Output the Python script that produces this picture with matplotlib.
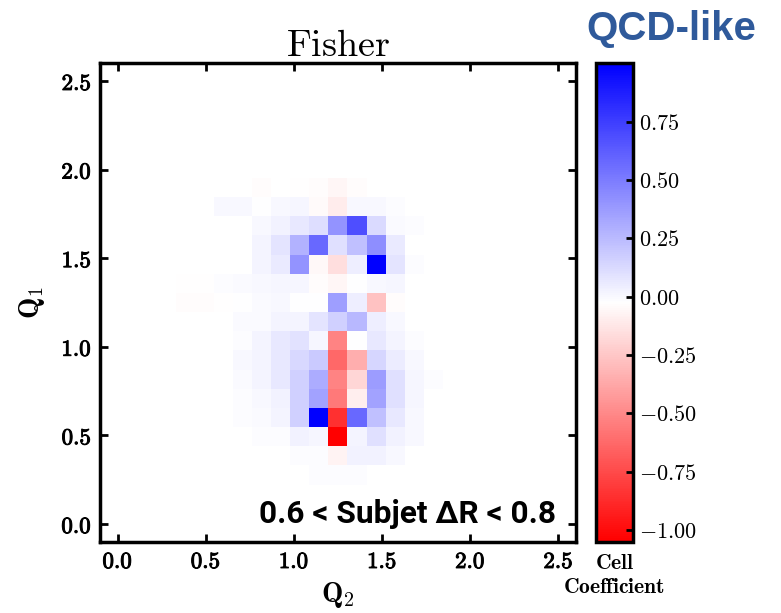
import numpy as np
import matplotlib
matplotlib.use("Agg")
import matplotlib.pyplot as plt
import matplotlib.patheffects as pe
from matplotlib.ticker import FuncFormatter, FormatStrFormatter

plt.rcParams['mathtext.fontset'] = 'cm'

# 25 x 25 cell grid over Q2 (x) and Q1 (y)
q_lo, q_hi, n_bins = -0.1, 2.6, 25

# populated block of the grid: rows 3..18 (Q1 bins), cols 4..17 (Q2 bins)
row_start = 3
col_start = 4
nan = np.nan
# listed from bottom row (3) to top row (18)
cell_coeff = [
    [nan,   nan,   nan,   nan,   nan,   nan,   nan, -0.015, -0.01, -0.015,  nan,   nan,   nan,   nan],   # 3
    [nan,   nan,   nan,   nan,   nan,   nan,  -0.01, -0.01, -0.07,  0.03,  0.03,  0.0,   nan,   nan],   # 4
    [nan,   nan,   nan,   nan, -0.015, -0.01,  0.03,  0.01, -1.05,  0.02,  0.10,  0.03,  0.0,   nan],   # 5
    [nan,   nan,   nan,  -0.01, -0.005, 0.02,  0.16,  1.00, -0.85,  0.58,  0.23,  0.07,  0.0,   nan],   # 6
    [nan,   nan,   nan,  -0.01,  0.0,   0.03,  0.16,  0.35, -0.56, -0.09,  0.35,  0.10,  0.01,  nan],   # 7
    [nan,   nan,   nan,  -0.005, 0.02,  0.07,  0.16,  0.31, -0.52, -0.19,  0.37,  0.10,  0.01, -0.01],  # 8
    [nan,   nan,   nan,   0.0,   0.02,  0.07,  0.13,  0.19, -0.63, -0.35,  0.14,  0.05,  0.0,   nan],   # 9
    [nan,   nan,   nan,  -0.01,  0.02,  0.07,  0.09,  0.01, -0.52, -0.02,  0.07,  0.02, -0.01,  nan],   # 10
    [nan,   nan,   nan,  -0.005,-0.005, 0.02,  0.02,  0.08,  0.16,  0.26,  0.04,  0.0,   nan,   nan],   # 11
    [-0.035, -0.035, -0.03, -0.025, -0.005, 0.0, -0.025, -0.025, 0.36, 0.04, -0.27, -0.035, nan,  nan],  # 12
    [-0.03, -0.03, -0.015, -0.005, 0.0,   0.01,  0.015, -0.035, -0.06, -0.025, 0.0,  0.01,  nan,   nan],  # 13
    [nan,   nan,   nan,   nan,   0.02,  0.06,  0.40, -0.05, -0.16,  0.04,  1.00,  0.08, -0.01,  nan],   # 14
    [nan,   nan,   nan,   nan,   0.02,  0.08,  0.28,  0.58,  0.10,  0.23,  0.43,  0.06,  nan,   nan],   # 15
    [nan,   nan,   nan,   nan,   0.0,   0.03,  0.07,  0.11,  0.40,  0.68,  0.12, -0.005, -0.01, nan],   # 16
    [nan,   nan,   0.0,   0.0,  -0.025, 0.0,   0.015, -0.045, -0.10, 0.0,   0.0,  -0.01,  nan,   nan],   # 17
    [nan,   nan,   nan,   nan,  -0.035, nan,  -0.03, -0.035, -0.06, -0.035, nan,   nan,   nan,   nan],   # 18
]

cbar_ticks = [-1.0, -0.75, -0.5, -0.25, 0.0, 0.25, 0.5, 0.75]
axis_ticks = [0.0, 0.5, 1.0, 1.5, 2.0, 2.5]

grid = np.full((n_bins, n_bins), np.nan)
block = np.array(cell_coeff)
grid[row_start:row_start + block.shape[0], col_start:col_start + block.shape[1]] = block

fig = plt.figure(figsize=(7.81, 6.13), dpi=100)
ax = fig.add_axes([100 / 781, 71.3 / 613, 476 / 781, 478.4 / 613])
cax = fig.add_axes([596 / 781, 71.3 / 613, 37 / 781, 478.4 / 613])

im = ax.imshow(np.ma.masked_invalid(grid), cmap='bwr_r', origin='lower',
               extent=[q_lo, q_hi, q_lo, q_hi], aspect='auto',
               interpolation='nearest')

ax.set_xlim(q_lo, q_hi)
ax.set_ylim(q_lo, q_hi)
ax.set_xticks(axis_ticks)
ax.set_yticks(axis_ticks)
bold_fmt = FuncFormatter(lambda v, p: r'$\mathbf{%.1f}$' % v)
ax.xaxis.set_major_formatter(bold_fmt)
ax.yaxis.set_major_formatter(bold_fmt)
ax.tick_params(direction='in', length=6, width=2, top=True, right=True,
               labelsize=16.5, pad=6)
# thicken the bold tick numbers a little
heavy = [pe.withStroke(linewidth=0.7, foreground='black')]
for lab in ax.get_xticklabels() + ax.get_yticklabels():
    lab.set_path_effects(heavy)
for s in ax.spines.values():
    s.set_linewidth(2.5)

ax.set_title(r'$\mathrm{Fisher}$', fontsize=27.5, pad=5)
ax.set_xlabel(r'$\mathbf{Q_2}$', fontsize=20.5, labelpad=5)
ax.set_ylabel(r'$\mathbf{Q_1}$', fontsize=20.5, labelpad=10)

ax.text(0.958, 0.04, '0.6 < Subjet \u0394R < 0.8', transform=ax.transAxes,
        ha='right', va='baseline', fontsize=22.8, fontweight='bold',
        family='Roboto')

cb = fig.colorbar(im, cax=cax, ticks=cbar_ticks)
cb.ax.yaxis.set_major_formatter(FormatStrFormatter(r'$%.2f$'))
cb.ax.tick_params(direction='in', length=5, width=2, labelsize=16, pad=4)
cb.outline.set_linewidth(2.5)

fig.text(614.5 / 781, 1 - 563 / 613, r'$\mathbf{Cell}$', ha='center',
         va='center', fontsize=15.5)
fig.text(614.5 / 781, 1 - 587 / 613, r'$\mathbf{Coefficient}$', ha='center',
         va='center', fontsize=15.5)

fig.text(671 / 781, 1 - 40 / 613, 'QCD-like', ha='center', va='baseline',
         fontsize=29, fontweight='bold', family='Liberation Sans',
         color='#2f5a9b')

fig.savefig('out.png', dpi=100)
